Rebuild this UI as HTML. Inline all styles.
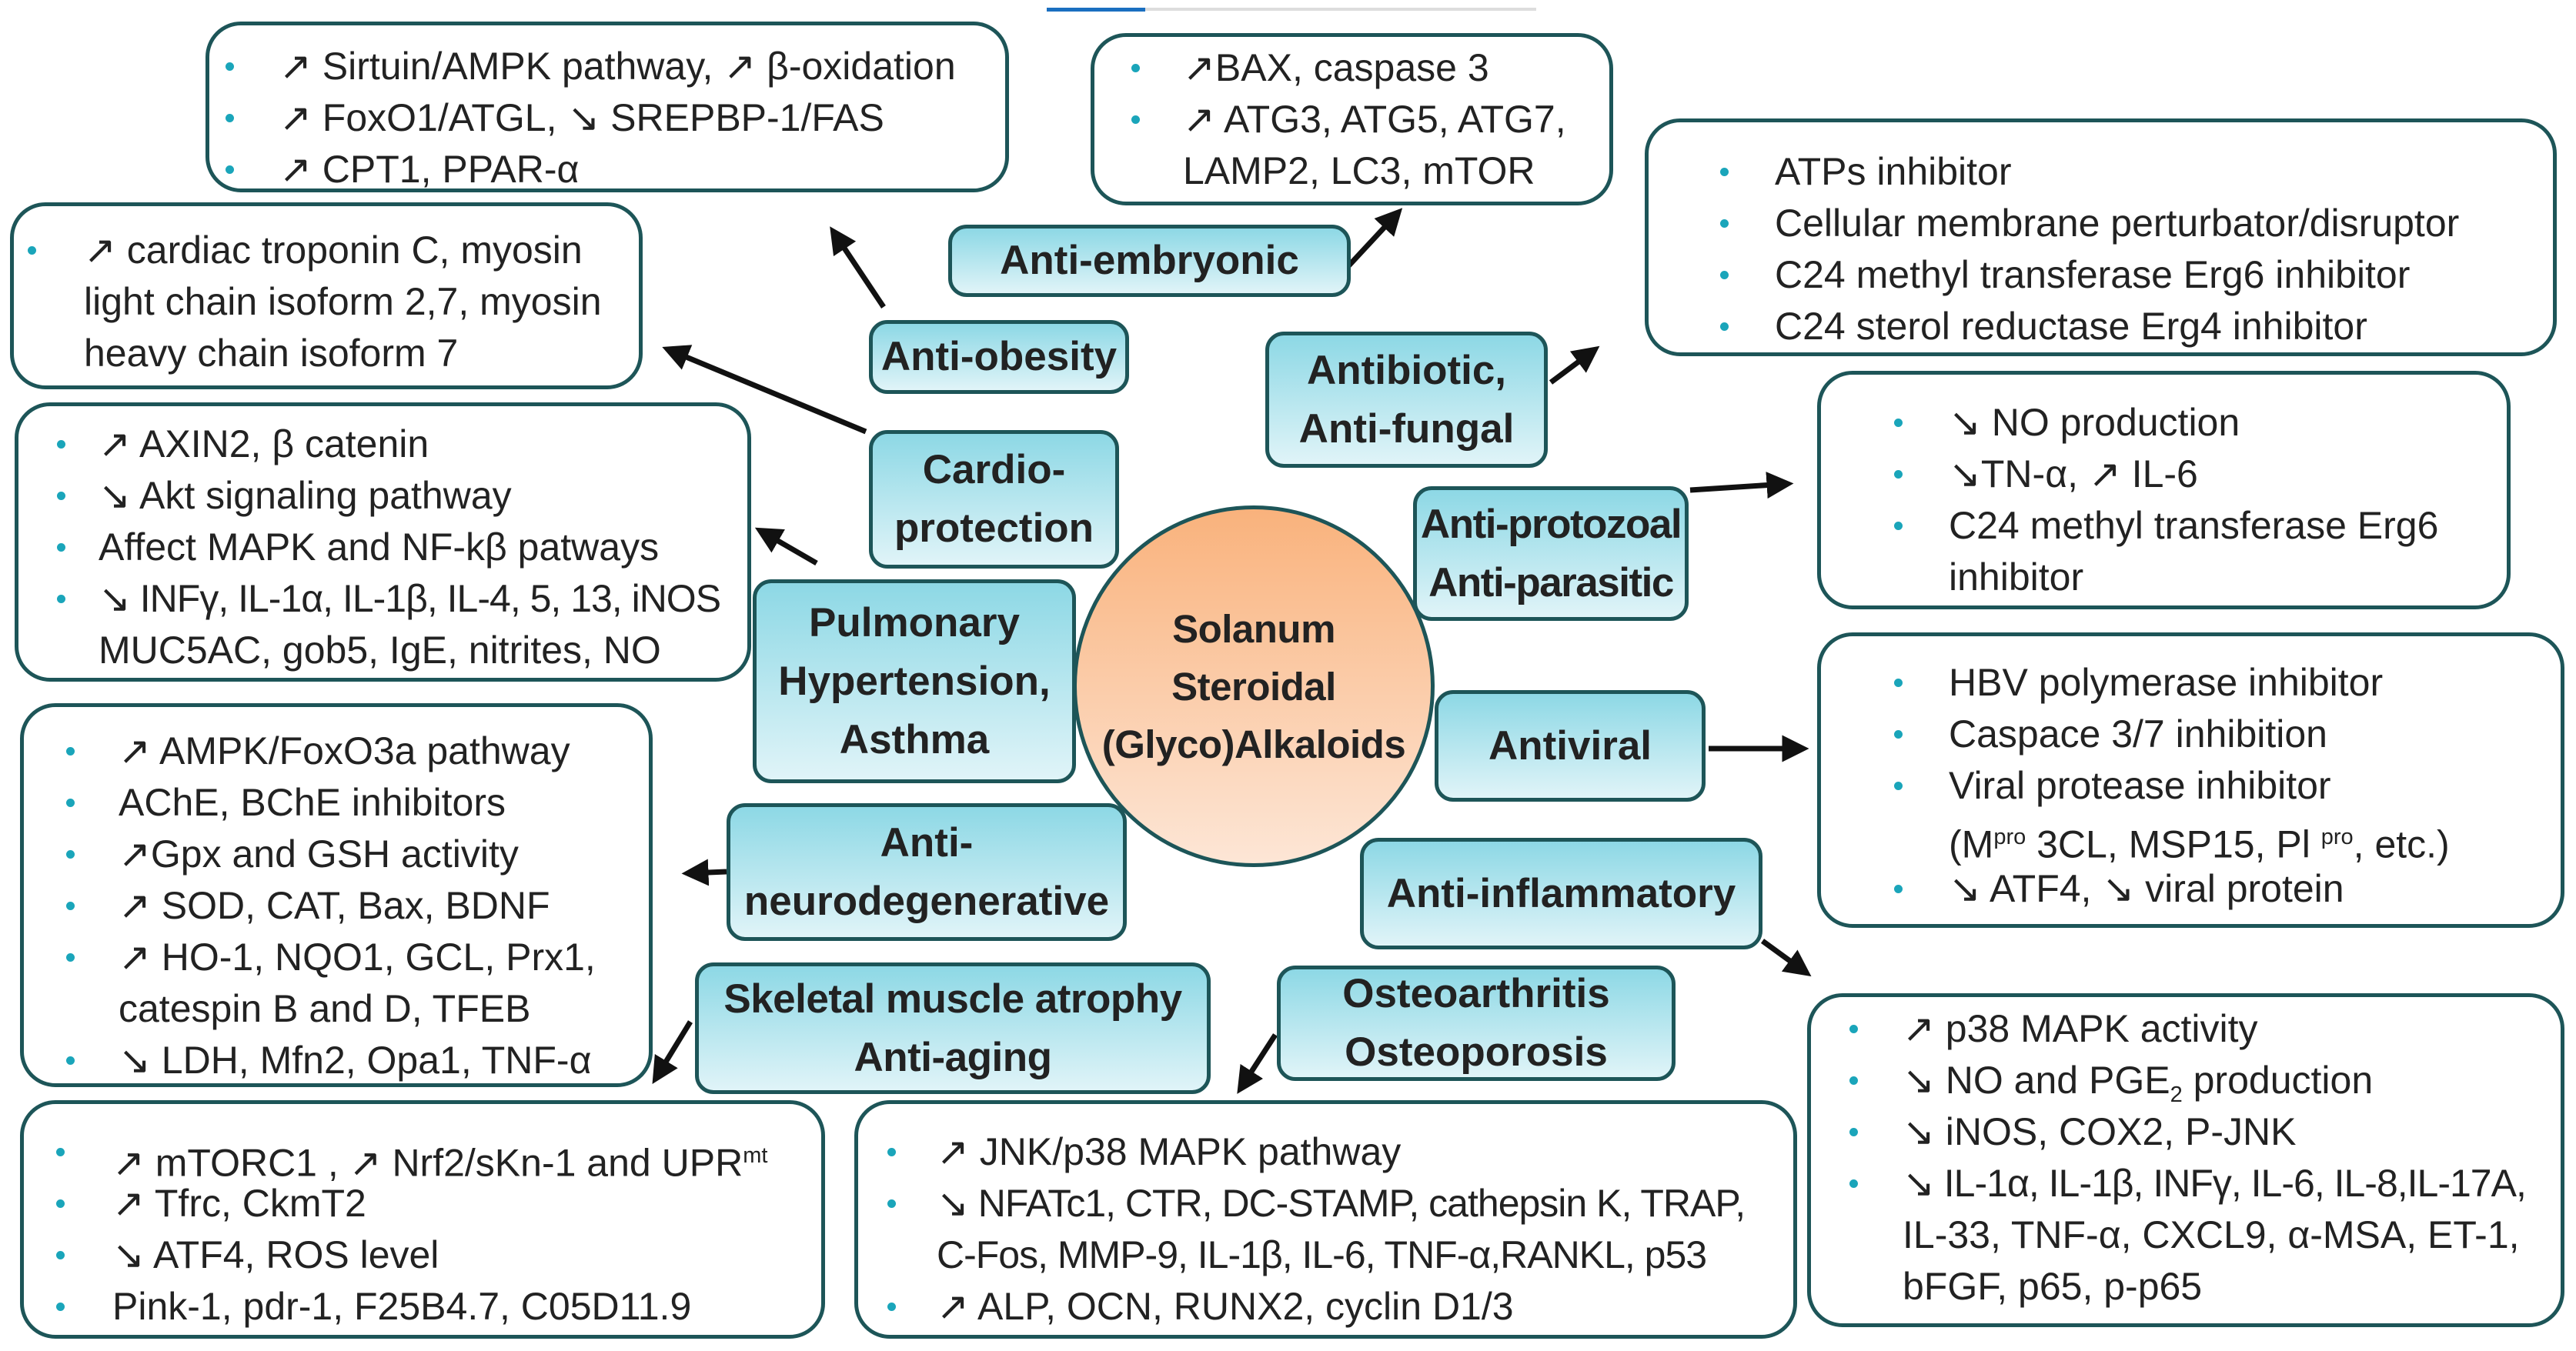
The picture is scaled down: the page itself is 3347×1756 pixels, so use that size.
<!DOCTYPE html>
<html><head><meta charset="utf-8"><style>
body{margin:0;width:3347px;height:1756px;background:#fff;position:relative;overflow:hidden;font-family:"Liberation Sans",sans-serif;color:#222}
.box{position:absolute;border:5px solid #1d5558;border-radius:46px;background:#fff;box-sizing:border-box;font-size:50px;letter-spacing:0}
.ln{position:absolute;white-space:nowrap;line-height:67px;height:67px}
.t{letter-spacing:-1px}
.bl{position:absolute;width:11px;height:11px;border-radius:50%;background:#1aa5ba}
.lab{position:absolute;box-sizing:border-box;border:5px solid #1d5558;border-radius:24px;background:linear-gradient(#8dd8e5,#e0f4f8);font-weight:bold;font-size:53px;text-align:center;display:flex;flex-direction:column;justify-content:center;line-height:76px;white-space:nowrap}
sup,sub{font-size:29px}
</style></head><body>
<div style="position:absolute;left:1360px;top:10px;width:636px;height:4px;background:#ddd"></div>
<div style="position:absolute;left:1360px;top:10px;width:128px;height:5px;background:#1a6fc0"></div>

<svg width="3347" height="1756" style="position:absolute;left:0;top:0" >
<defs><marker id="a" markerWidth="5" markerHeight="5" refX="3.5" refY="2.5" orient="auto" markerUnits="strokeWidth"><path d="M0,0 L5,2.5 L0,5 Z" fill="#111"/></marker></defs>
<g stroke="#111" stroke-width="7" marker-end="url(#a)">
<line x1="1148" y1="399" x2="1084" y2="303"/>
<line x1="1125" y1="561" x2="870" y2="455"/>
<line x1="1061" y1="732" x2="990" y2="691"/>
<line x1="944" y1="1133" x2="896" y2="1135"/>
<line x1="897" y1="1328" x2="853" y2="1400"/>
<line x1="1657" y1="1345" x2="1613" y2="1413"/>
<line x1="2290" y1="1223" x2="2345" y2="1263"/>
<line x1="2220" y1="973" x2="2340" y2="973"/>
<line x1="2196" y1="637" x2="2320" y2="629"/>
<line x1="2015" y1="497" x2="2070" y2="456"/>
<line x1="1750" y1="348" x2="1815" y2="278"/>
</g></svg>

<!-- info boxes -->
<div class="box" style="left:267px;top:28px;width:1044px;height:222px">
<div class="bl" style="left:21px;top:48px"></div><div class="ln" style="left:91px;top:20px">↗ Sirtuin/AMPK pathway, ↗ β-oxidation</div>
<div class="bl" style="left:21px;top:115px"></div><div class="ln" style="left:91px;top:87px">↗ FoxO1/ATGL, ↘ SREPBP-1/FAS</div>
<div class="bl" style="left:21px;top:182px"></div><div class="ln" style="left:91px;top:154px">↗ CPT1, PPAR-α</div>
</div>
<div class="box" style="left:1417px;top:43px;width:679px;height:224px">
<div class="bl" style="left:48px;top:35px"></div><div class="ln" style="left:115px;top:7px">↗BAX, caspase 3</div>
<div class="bl" style="left:48px;top:102px"></div><div class="ln" style="left:115px;top:74px">↗ ATG3, ATG5, ATG7,</div>
<div class="ln" style="left:115px;top:141px">LAMP2, LC3, mTOR</div>
</div>
<div class="box" style="left:13px;top:263px;width:822px;height:243px">
<div class="bl" style="left:18px;top:52px"></div><div class="ln" style="left:91px;top:24px">↗ cardiac troponin C, myosin</div>
<div class="ln" style="left:91px;top:91px">light chain isoform 2,7, myosin</div>
<div class="ln" style="left:91px;top:158px">heavy chain isoform 7</div>
</div>
<div class="box" style="left:2137px;top:154px;width:1185px;height:309px">
<div class="bl" style="left:93px;top:59px"></div><div class="ln" style="left:164px;top:31px">ATPs inhibitor</div>
<div class="bl" style="left:93px;top:126px"></div><div class="ln" style="left:164px;top:98px">Cellular membrane perturbator/disruptor</div>
<div class="bl" style="left:93px;top:193px"></div><div class="ln" style="left:164px;top:165px">C24 methyl transferase Erg6 inhibitor</div>
<div class="bl" style="left:93px;top:260px"></div><div class="ln" style="left:164px;top:232px">C24 sterol reductase Erg4 inhibitor</div>
</div>
<div class="box" style="left:19px;top:523px;width:957px;height:363px">
<div class="bl" style="left:50px;top:44px"></div><div class="ln" style="left:104px;top:16px">↗ AXIN2, β catenin</div>
<div class="bl" style="left:50px;top:111px"></div><div class="ln" style="left:104px;top:83px">↘ Akt signaling pathway</div>
<div class="bl" style="left:50px;top:178px"></div><div class="ln" style="left:104px;top:150px">Affect MAPK and NF-kβ patways</div>
<div class="bl" style="left:50px;top:245px"></div><div class="ln t" style="left:104px;top:217px">↘ INFγ, IL-1α, IL-1β, IL-4, 5, 13, iNOS</div>
<div class="ln" style="left:104px;top:284px">MUC5AC, gob5, IgE, nitrites, NO</div>
</div>
<div class="box" style="left:2361px;top:482px;width:901px;height:310px">
<div class="bl" style="left:95px;top:57px"></div><div class="ln" style="left:166px;top:29px">↘ NO production</div>
<div class="bl" style="left:95px;top:124px"></div><div class="ln" style="left:166px;top:96px">↘TN-α, ↗ IL-6</div>
<div class="bl" style="left:95px;top:191px"></div><div class="ln" style="left:166px;top:163px">C24 methyl transferase Erg6</div>
<div class="ln" style="left:166px;top:230px">inhibitor</div>
</div>
<div class="box" style="left:26px;top:914px;width:822px;height:499px">
<div class="bl" style="left:55px;top:52px"></div><div class="ln" style="left:123px;top:24px">↗ AMPK/FoxO3a pathway</div>
<div class="bl" style="left:55px;top:119px"></div><div class="ln" style="left:123px;top:91px">AChE, BChE inhibitors</div>
<div class="bl" style="left:55px;top:186px"></div><div class="ln" style="left:123px;top:158px">↗Gpx and GSH activity</div>
<div class="bl" style="left:55px;top:253px"></div><div class="ln" style="left:123px;top:225px">↗ SOD, CAT, Bax, BDNF</div>
<div class="bl" style="left:55px;top:320px"></div><div class="ln" style="left:123px;top:292px">↗ HO-1, NQO1, GCL, Prx1,</div>
<div class="ln" style="left:123px;top:359px">catespin B and D, TFEB</div>
<div class="bl" style="left:55px;top:454px"></div><div class="ln" style="left:123px;top:426px">↘ LDH, Mfn2, Opa1, TNF-α</div>
</div>
<div class="box" style="left:2361px;top:822px;width:971px;height:384px">
<div class="bl" style="left:95px;top:55px"></div><div class="ln" style="left:166px;top:27px">HBV polymerase inhibitor</div>
<div class="bl" style="left:95px;top:122px"></div><div class="ln" style="left:166px;top:94px">Caspace 3/7 inhibition</div>
<div class="bl" style="left:95px;top:189px"></div><div class="ln" style="left:166px;top:161px">Viral protease inhibitor</div>
<div class="ln" style="left:166px;top:228px">(M<sup>pro</sup> 3CL, MSP15, Pl <sup>pro</sup>, etc.)</div>
<div class="bl" style="left:95px;top:323px"></div><div class="ln" style="left:166px;top:295px">↘ ATF4, ↘ viral protein</div>
</div>
<div class="box" style="left:26px;top:1430px;width:1046px;height:310px">
<div class="bl" style="left:42px;top:57px"></div><div class="ln" style="left:115px;top:34px">↗ mTORC1 , ↗ Nrf2/sKn-1 and UPR<sup>mt</sup></div>
<div class="bl" style="left:42px;top:124px"></div><div class="ln" style="left:115px;top:96px">↗ Tfrc, CkmT2</div>
<div class="bl" style="left:42px;top:191px"></div><div class="ln" style="left:115px;top:163px">↘ ATF4, ROS level</div>
<div class="bl" style="left:42px;top:258px"></div><div class="ln" style="left:115px;top:230px">Pink-1, pdr-1, F25B4.7, C05D11.9</div>
</div>
<div class="box" style="left:1110px;top:1430px;width:1225px;height:310px">
<div class="bl" style="left:38px;top:57px"></div><div class="ln" style="left:102px;top:29px">↗ JNK/p38 MAPK pathway</div>
<div class="bl" style="left:38px;top:124px"></div><div class="ln t" style="left:102px;top:96px">↘ NFATc1, CTR, DC-STAMP, cathepsin K, TRAP,</div>
<div class="ln t" style="left:102px;top:163px">C-Fos, MMP-9, IL-1β, IL-6, TNF-α,RANKL, p53</div>
<div class="bl" style="left:38px;top:258px"></div><div class="ln" style="left:102px;top:230px">↗ ALP, OCN, RUNX2, cyclin D1/3</div>
</div>
<div class="box" style="left:2348px;top:1291px;width:984px;height:434px">
<div class="bl" style="left:50px;top:36px"></div><div class="ln" style="left:119px;top:8px">↗ p38 MAPK activity</div>
<div class="bl" style="left:50px;top:103px"></div><div class="ln" style="left:119px;top:75px">↘ NO and PGE<sub>2</sub> production</div>
<div class="bl" style="left:50px;top:170px"></div><div class="ln" style="left:119px;top:142px">↘ iNOS, COX2, P-JNK</div>
<div class="bl" style="left:50px;top:237px"></div><div class="ln t" style="left:119px;top:209px">↘ IL-1α, IL-1β, INFγ, IL-6, IL-8,IL-17A,</div>
<div class="ln" style="left:119px;top:276px">IL-33, TNF-α, CXCL9, α-MSA, ET-1,</div>
<div class="ln" style="left:119px;top:343px">bFGF, p65, p-p65</div>
</div>

<!-- labels -->
<div class="lab" style="left:1232px;top:292px;width:523px;height:94px">Anti-embryonic</div>
<div class="lab" style="left:1129px;top:416px;width:338px;height:96px">Anti-obesity</div>
<div class="lab" style="left:1129px;top:559px;width:325px;height:180px"><div>Cardio-</div><div>protection</div></div>
<div class="lab" style="left:1644px;top:431px;width:367px;height:177px"><div>Antibiotic,</div><div>Anti-fungal</div></div>
<div class="lab" style="left:978px;top:753px;width:420px;height:265px"><div>Pulmonary</div><div>Hypertension,</div><div>Asthma</div></div>
<div class="lab" style="left:1836px;top:632px;width:358px;height:175px;letter-spacing:-1.5px"><div>Anti-protozoal</div><div>Anti-parasitic</div></div>
<div class="lab" style="left:1864px;top:897px;width:352px;height:145px">Antiviral</div>
<div class="lab" style="left:1767px;top:1089px;width:523px;height:145px">Anti-inflammatory</div>
<div class="lab" style="left:944px;top:1044px;width:520px;height:179px"><div>Anti-</div><div>neurodegenerative</div></div>
<div class="lab" style="left:903px;top:1251px;width:670px;height:171px;letter-spacing:-0.5px"><div>Skeletal muscle atrophy</div><div>Anti-aging</div></div>
<div class="lab" style="left:1659px;top:1255px;width:518px;height:150px"><div>Osteoarthritis</div><div>Osteoporosis</div></div>

<div style="position:absolute;left:1394px;top:657px;width:470px;height:470px;box-sizing:border-box;border:5px solid #1d5558;border-radius:50%;background:linear-gradient(#f9b27c,#fde6d6);display:flex;flex-direction:column;justify-content:center;align-items:center;font-weight:bold;font-size:51px;line-height:75px;letter-spacing:-0.5px;white-space:nowrap"><div>Solanum</div><div>Steroidal</div><div>(Glyco)Alkaloids</div></div>
</body></html>
